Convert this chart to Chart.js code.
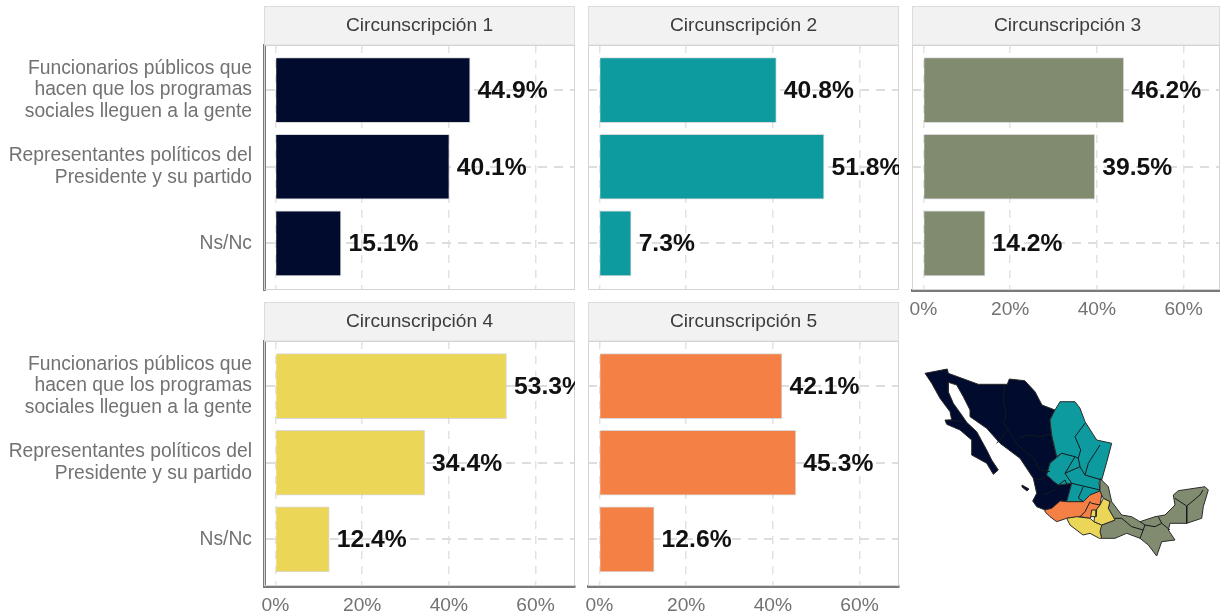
<!DOCTYPE html>
<html>
<head>
<meta charset="utf-8">
<script src="https://cdn.jsdelivr.net/npm/chart.js@4/dist/chart.umd.min.js"></script>
<style>
    html, body { margin: 0; background: #fff; overflow: hidden; }
    #page { position: relative; width: 1220px; height: 615px; overflow: hidden; }
    canvas { position: absolute; }
</style>
</head>
<body>
<div id="page"></div>
<script>
const categories = [
    ["Funcionarios públicos que", "hacen que los programas", "sociales lleguen a la gente"],
    ["Representantes políticos del", "Presidente y su partido"],
    ["Ns/Nc"]
];
const panelTitles = ["Circunscripción 1", "Circunscripción 2", "Circunscripción 3", "Circunscripción 4", "Circunscripción 5"];
const circ1 = [44.9, 40.1, 15.1];
const circ2 = [40.8, 51.8, 7.3];
const circ3 = [46.2, 39.5, 14.2];
const circ4 = [53.3, 34.4, 12.4];
const circ5 = [42.1, 45.3, 12.6];
const xTickValues = [0, 20, 40, 60];
const panelColors = ["#000b2e", "#0d9ba0", "#808b6f", "#ecd658", "#f48045"];

// map outlines (map units, y going down)
const mapRegion1 = [[25,23.3],[47.3,19],[48.3,23.3],[78.3,34.3],[107.3,34.3],[109.3,29],[124.8,30.7],[135,41.7],[142,55],[155,60],[150,70],[151.7,85],[156.7,106.7],[161.7,103.3],[150,113.3],[146.7,125],[153.3,131],[158.3,135],[171.7,133.3],[166.7,151.7],[160,151],[156.7,158.3],[145,160],[136.7,156.7],[132.7,151],[136.7,143.3],[133.3,128.3],[120,108.3],[100,93.3],[86.7,78.3],[70,66.7],[70,60],[63.3,46.7],[56.7,35],[48.3,32.3],[48.3,41.7],[53.3,53.3],[61.7,65],[66.7,72.3],[76.7,81.7],[86.7,100],[91.7,110],[98.3,120],[93.3,124.3],[86.7,113.3],[71.7,105],[71.7,90],[60,80],[46.7,74.3],[45,70],[51.7,70],[50,61.7],[40,48.3],[31.7,33.3],[25,23.3]];
const mapIsland = [[122,135],[129,139],[127,141],[122,137],[122,135]];
const mapRegion2 = [[155,60],[160,51.7],[175,51.7],[180,58.3],[185,71.7],[196.7,90],[211.7,93.3],[207.3,110],[201.7,130],[199,132.3],[200,141],[190,145],[183.3,151.7],[166.7,151.7],[171.7,133.3],[158.3,135],[153.3,131],[146.7,125],[150,113.3],[161.7,103.3],[156.7,106.7],[151.7,85],[150,70],[155,60]];
const mapRegion3 = [[200,128.3],[208.3,136.7],[211.7,151.7],[221.7,165],[231.7,166.7],[240,171.7],[255,166.7],[265,165],[275,155],[273.3,145],[278.3,140.7],[305,136.7],[308.3,140],[303.3,156.7],[301.7,168.3],[286.7,173.3],[270,173.3],[268.3,180],[275,190],[261.7,191.7],[256.7,206],[248.3,195],[240,188.3],[226.7,183.3],[215,188.3],[201.7,188.3],[200,181.7],[199,176.7],[201.7,175],[215,170],[208.3,158.3],[210,151.7],[203.3,148.3],[200,141.7],[200,128.3]];
const mapRegion4a = [[166.7,168.3],[176.7,166.7],[190,168.3],[194,171.7],[201.7,175],[200,181.7],[201.7,188.3],[199.3,188.3],[190,183.3],[183,185],[170,175],[166.7,168.3]];
const mapRegion4b = [[203.3,148.3],[210,151.7],[208.3,158.3],[215,170],[201.7,175],[194,171.7],[195,161.7],[200,155],[203.3,148.3]];
const mapRegion4c = [[191.7,160],[196.7,160],[196,166.7],[190.7,166.7],[191.7,160]];
const mapRegion5 = [[145,160],[151.7,158.3],[160,151],[166.7,151.7],[183.3,151.7],[190,145],[200,141],[201.7,145],[200,155],[195,161.7],[190,168.3],[180,166.7],[166.7,168.3],[156.7,171.7],[150,166.7],[145,161.7],[145,160]];
const mapStateLines = [
    [[105,35],[103.3,48.3],[106,65],[103.3,73.3],[108.3,80],[116.7,93.3],[120,96.7],[133.3,108.3],[140,120],[150,121.7]],
    [[96.7,93.3],[108.3,80]],
    [[48.3,70],[63.3,71.7]],
    [[120,88.3],[126.7,85],[140,86.7],[151.7,83.3]],
    [[133,128],[140,130],[145,126.7]],
    [[155,140],[143.3,145]],
    [[185,73.3],[175,86.7],[180.7,100],[178.3,108.3],[180,116.7],[185,125],[201.7,130]],
    [[200,95],[188.3,113.3],[185,125]],
    [[161.7,103.3],[175,106.7],[178.3,108.3]],
    [[175,106.7],[165,123.3],[171.7,133.3],[200,140]],
    [[180,116.7],[165,123.3]],
    [[183.3,136.7],[178.3,148],[183.3,151.7]],
    [[158.3,135],[165,130],[167,135]],
    [[190,151.7],[185,161.7],[180,166.7]],
    [[200,155],[191.7,153.3],[190,151.7]],
    [[215,168.3],[221.7,168.3],[231.7,176.7],[243.3,180]],
    [[240,188.3],[245,175],[255,176.7],[261.7,173.3],[270,180]],
    [[240,171.7],[245,175]],
    [[258.3,166.7],[261.7,173.3]],
    [[275,148.3],[286.7,156],[300,145],[303,140]],
    [[286.7,156],[286.7,173.3]]
];

const barThicknessPx = 65;
const textFont = "'Liberation Sans', Arial, sans-serif";

// strip on top, frame round the plot and the bold value next to each bar
const panelPlugin = {
    id: "panelPlugin",
    beforeDatasetsDraw(chart) {
        const area = chart.chartArea;
        const ctx = chart.ctx;
        ctx.save();
        ctx.fillStyle = "#f2f2f2";
        ctx.strokeStyle = "#dcdcdc";
        ctx.lineWidth = 1;
        ctx.fillRect(area.left, 6, area.width, 39);
        ctx.strokeRect(area.left + 0.5, 6.5, area.width - 1, 38.5);
        ctx.strokeStyle = "#d4d4d4";
        ctx.strokeRect(area.left + 0.5, area.top + 0.5, area.width - 1, area.height - 1);
        ctx.fillStyle = "#3c3c3c";
        ctx.font = "19.2px " + textFont;
        ctx.textAlign = "center";
        ctx.textBaseline = "middle";
        ctx.fillText(chart.options.plugins.panelPlugin.title, area.left + 155.5, 26);
        ctx.restore();
    },
    afterDatasetsDraw(chart) {
        const area = chart.chartArea;
        const ctx = chart.ctx;
        const values = chart.data.datasets[0].data;
        ctx.save();
        ctx.beginPath();
        ctx.rect(area.left, area.top, area.width, area.height);
        ctx.clip();
        ctx.fillStyle = "#111";
        ctx.font = "bold 24.7px " + textFont;
        ctx.textAlign = "left";
        ctx.textBaseline = "middle";
        chart.getDatasetMeta(0).data.forEach((bar, i) => {
            ctx.fillText(values[i].x.toFixed(1) + "%", bar.x + 7.5, bar.y + 1);
        });
        ctx.restore();
    }
};

function addCanvas(left, top, width, height) {
    const canvas = document.createElement("canvas");
    canvas.width = width;
    canvas.height = height;
    canvas.style.left = left + "px";
    canvas.style.top = top + "px";
    canvas.style.width = width + "px";
    canvas.style.height = height + "px";
    document.getElementById("page").appendChild(canvas);
    return canvas.getContext("2d");
}

function drawPanel(index, values, box) {
    const ctx = addCanvas(box.left, box.top, box.width, 319);
    new Chart(ctx, {
        type: "bar",
        data: {
            datasets: [{
                data: values.map((v, i) => ({ x: v, y: i + 1 })),
                backgroundColor: panelColors[index],
                borderColor: "rgba(190,190,190,0.6)",
                borderWidth: 1,
                barThickness: barThicknessPx
            }]
        },
        options: {
            indexAxis: "y",
            responsive: false,
            animation: false,
            devicePixelRatio: 1,
            layout: { padding: { top: 45, bottom: 0, left: box.padLeft, right: box.padRight } },
            plugins: {
                legend: { display: false },
                tooltip: { enabled: false },
                panelPlugin: { title: panelTitles[index] }
            },
            scales: {
                x: {
                    type: "linear",
                    min: -2.65,
                    max: box.xMax,
                    afterBuildTicks: scale => { scale.ticks = xTickValues.map(v => ({ value: v })); },
                    afterFit: scale => {
                        scale.height = 29;
                        scale.paddingLeft = 0;
                        scale.paddingRight = 0;
                    },
                    ticks: {
                        display: box.xLabels,
                        color: "#727272",
                        font: { family: textFont, size: 19.2 },
                        padding: 8,
                        maxRotation: 0,
                        callback: v => v + "%"
                    },
                    grid: { color: "#e2e2e2", lineWidth: 1.5, drawTicks: false },
                    border: { display: box.xLabels, color: "#7a7a7a", width: 3, dash: [8, 7] }
                },
                y: {
                    type: "linear",
                    reverse: true,
                    offset: false,
                    min: 0.41,
                    max: 3.61,
                    afterBuildTicks: scale => { scale.ticks = categories.map((c, i) => ({ value: i + 1 })); },
                    afterFit: scale => {
                        scale.width = box.axisWidth;
                        scale.paddingTop = 0;
                        scale.paddingBottom = 0;
                    },
                    ticks: {
                        display: box.axisWidth > 0,
                        autoSkip: false,
                        color: "#727272",
                        font: { family: textFont, size: 19.3, lineHeight: 1.1 },
                        padding: 12,
                        callback: v => categories[v - 1]
                    },
                    grid: { offset: false, color: "#dedede", lineWidth: 2, drawTicks: false },
                    border: { display: box.axisWidth > 0, color: "#7a7a7a", width: 3, dash: [9, 7] }
                }
            }
        },
        plugins: [panelPlugin]
    });
}

drawPanel(0, circ1, { left: 0, top: 0, width: 576, padLeft: 0, padRight: 1, axisWidth: 264, xMax: 69.1, xLabels: false });
drawPanel(1, circ2, { left: 576, top: 0, width: 324, padLeft: 12, padRight: 1, axisWidth: 0, xMax: 69.1, xLabels: false });
drawPanel(2, circ3, { left: 900, top: 0, width: 320, padLeft: 12, padRight: 0, axisWidth: 0, xMax: 68.4, xLabels: true });
drawPanel(3, circ4, { left: 0, top: 296, width: 576, padLeft: 0, padRight: 1, axisWidth: 264, xMax: 69.1, xLabels: true });
drawPanel(4, circ5, { left: 576, top: 296, width: 324, padLeft: 12, padRight: 1, axisWidth: 0, xMax: 69.1, xLabels: true });

// the small map is a scatter chart whose lines are closed and filled
function toPoints(pairs) {
    return pairs.map(p => ({ x: p[0], y: p[1] }));
}

function regionDataset(pairs, color) {
    return {
        data: toPoints(pairs),
        showLine: true,
        fill: "shape",
        tension: 0,
        pointRadius: 0,
        backgroundColor: color,
        borderColor: "#2a2a2a",
        borderWidth: 1
    };
}

function stateLineDataset(pairs) {
    return {
        data: toPoints(pairs),
        showLine: true,
        fill: false,
        tension: 0,
        pointRadius: 0,
        borderColor: "#141a1c",
        borderWidth: 1
    };
}

// first dataset is painted last, so the state lines go first
new Chart(addCanvas(900, 350, 320, 220), {
    type: "scatter",
    data: {
        datasets: mapStateLines.map(stateLineDataset).concat([
            regionDataset(mapRegion4c, panelColors[3]),
            regionDataset(mapRegion4b, panelColors[3]),
            regionDataset(mapRegion4a, panelColors[3]),
            regionDataset(mapRegion5, panelColors[4]),
            regionDataset(mapRegion3, panelColors[2]),
            regionDataset(mapRegion2, panelColors[1]),
            regionDataset(mapIsland, panelColors[0]),
            regionDataset(mapRegion1, panelColors[0])
        ])
    },
    options: {
        responsive: false,
        animation: false,
        devicePixelRatio: 1,
        layout: { padding: 0 },
        plugins: { legend: { display: false }, tooltip: { enabled: false } },
        scales: {
            x: { type: "linear", min: 0, max: 320, display: false },
            y: { type: "linear", min: 0, max: 220, reverse: true, display: false }
        }
    }
});
</script>
</body>
</html>
